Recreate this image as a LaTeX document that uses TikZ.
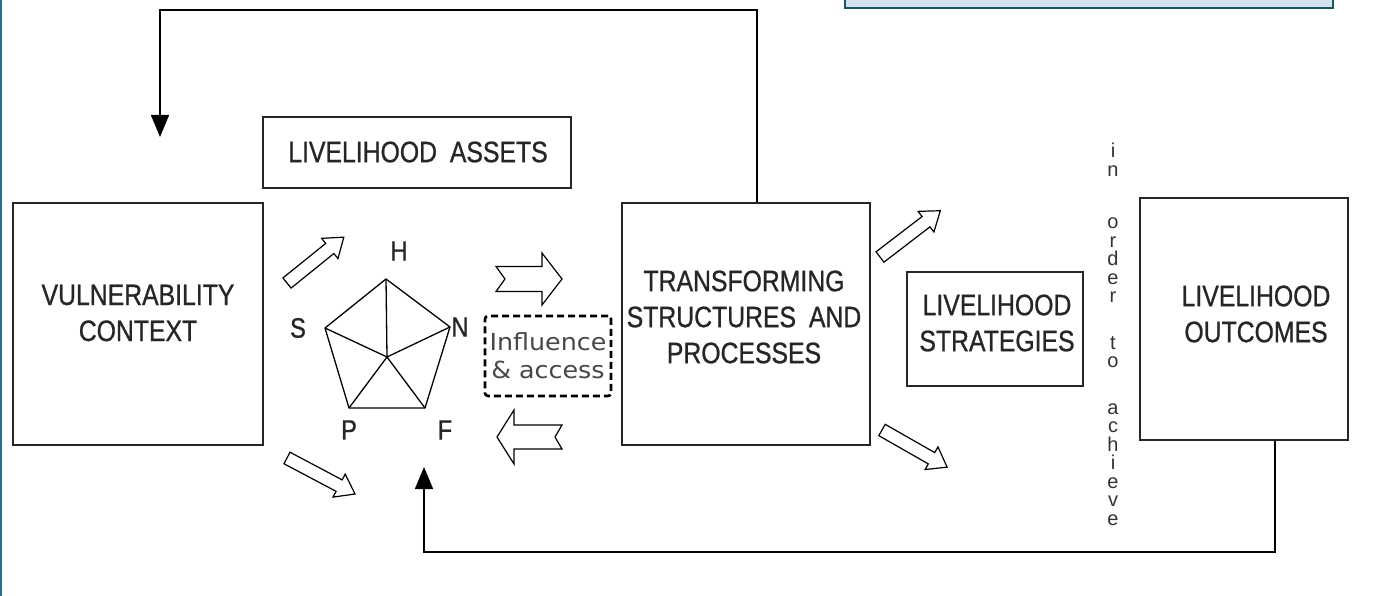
\documentclass[tikz,border=0pt]{standalone}
\usepackage{fontspec}
\setmainfont{Liberation Sans}
\newfontfamily\narrowfont{Liberation Sans}[FakeStretch=0.84,FakeBold=0.8]
\newfontfamily\infofont{DejaVu Sans}[FakeStretch=1.08]
\usetikzlibrary{arrows.meta}
\definecolor{tealframe}{RGB}{30,85,100}
\definecolor{notefill}{RGB}{210,226,238}
\definecolor{edgeteal}{RGB}{40,110,140}
\tikzset{
  box/.style={draw=black!85, line width=1.6pt, rectangle, inner sep=0pt},
  boxtext/.style={font=\narrowfont\fontsize{29.5}{36}\selectfont, align=center, inner sep=0pt, text=black!85},
  lettertext/.style={font=\narrowfont\fontsize{28}{30}\selectfont, inner sep=0pt, text=black!85},
  hollow/.style={draw=black, line width=1.2pt, fill=white, line join=miter},
  feed/.style={draw=black, line width=1.6pt, -{Triangle[width=18pt,length=22pt]}},
  pent/.style={draw=black, line width=1.3pt, line join=round},
}
\newcommand\hollowarrow[8]{%
  \begin{scope}[shift={(#1,#2)},rotate=#3]
    \draw[hollow] (0,-#5) -- ({#4-#7},-#5) -- ({#4-#7},-#6) -- (#4,0) -- ({#4-#7},#6) -- ({#4-#7},#5) -- (0,#5) -- (#8,0) -- cycle;
  \end{scope}}
\begin{document}
\begin{tikzpicture}[x=1pt,y=-1pt]
\clip (0,0) rectangle (1376,596);
\fill[white] (0,0) rectangle (1376,596);
% left edge
\draw[edgeteal, line width=2.5pt] (1,0) -- (1,596);
% note box at top right
\node[draw=tealframe, fill=notefill, line width=2pt, minimum width=488pt, minimum height=56pt, inner sep=0pt] (note) at (1089,-20) {};
% main boxes
\node[box, minimum width=250pt, minimum height=242pt] (vc) at (138,324) {};
\node[boxtext] (vct) at (138,313) {VULNERABILITY\\CONTEXT};
\node[box, minimum width=308pt, minimum height=71pt] (la) at (417,152.5) {};
\node[boxtext] (lat) at (418,152) {LIVELIHOOD\hspace{6pt} ASSETS};
\node[box, minimum width=248pt, minimum height=242pt] (ts) at (746,324) {};
\node[boxtext] (tst) at (744,317) {TRANSFORMING\\STRUCTURES\hspace{6pt} AND\\PROCESSES};
\node[box, minimum width=176pt, minimum height=114pt] (ls) at (995,329) {};
\node[boxtext] (lst) at (997,323) {LIVELIHOOD\\STRATEGIES};
\node[box, minimum width=208pt, minimum height=242pt] (lo) at (1244,319) {};
\node[boxtext] (lot) at (1256,314) {LIVELIHOOD\\OUTCOMES};
% influence box
\node[draw=black, line width=2.6pt, dash pattern=on 7pt off 4pt, rounded corners=3pt,
      minimum width=126pt, minimum height=80pt, inner sep=0pt, align=center,
      font=\infofont\fontsize{23.5}{28}\selectfont, text=black!72] (infl) at (548,356) {Influence\\\& access};
% pentagon
\coordinate (H) at (386,279);
\coordinate (N) at (450,327);
\coordinate (F) at (425,408);
\coordinate (P) at (349,408);
\coordinate (S) at (325,328);
\coordinate (C) at (387,357);
\draw[pent] (H) -- (N) -- (F) -- (P) -- (S) -- cycle;
\draw[pent] (C) -- (H) (C) -- (N) (C) -- (F) (C) -- (P) (C) -- (S);
\node[lettertext] (lH) at (399,251) {H};
\node[lettertext] (lS) at (298,328) {S};
\node[lettertext] (lN) at (460,327) {N};
\node[lettertext] (lP) at (349,430) {P};
\node[lettertext] (lF) at (445,430) {F};
% hollow arrows
\hollowarrow{287}{283}{38.9}{73}{6.5}{13}{18}{0}
\hollowarrow{287}{458}{-27.9}{77}{6.5}{13}{18}{0}
\hollowarrow{880}{257}{37.5}{76}{6.5}{13}{18}{0}
\hollowarrow{882}{430}{-29.7}{75}{6.5}{13}{18}{0}
\hollowarrow{496}{279}{0}{66}{12.5}{26}{20}{9}
\hollowarrow{562}{437}{180}{65}{12}{27}{17}{7}
% vertical text
\node[font=\fontsize{20}{18.5}\selectfont, align=center, inner sep=0pt, anchor=north, text=black!80] (vt) at (1113,143)
  {i\\n\\[34pt]o\\r\\d\\e\\r\\[28pt]t\\o\\[28pt]a\\c\\h\\i\\e\\v\\e};
% feedback connectors
\coordinate (vctip) at (160,137);
\coordinate (lbtip) at (424,467);
\draw[feed] ([xshift=11pt]ts.north) |- (160,10) -- (vctip);
\draw[feed] ([xshift=31pt]lo.south) |- (424,552) -- (lbtip);
\end{tikzpicture}
\end{document}
